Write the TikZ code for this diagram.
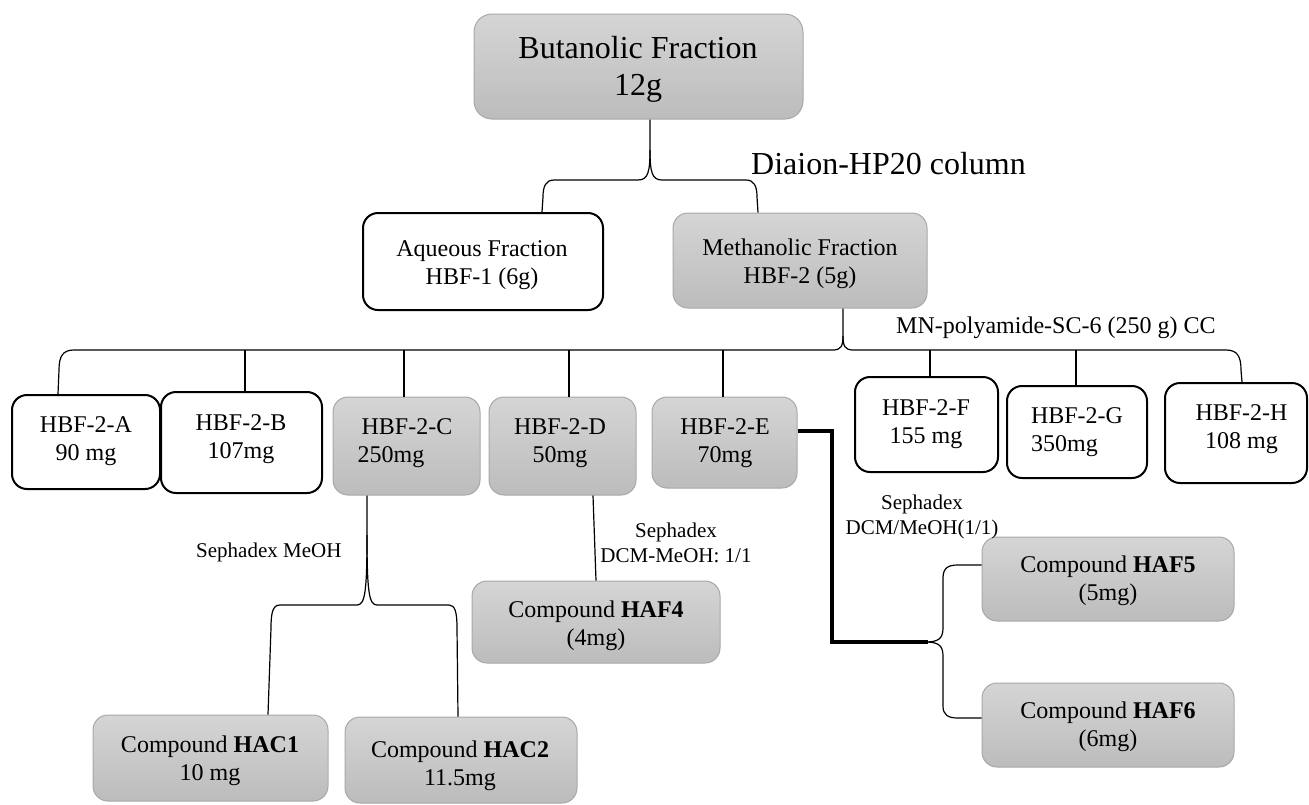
\documentclass[tikz,border=0pt]{standalone}
\usepackage{fontspec}
\setmainfont{Liberation Serif}
\definecolor{gtop}{HTML}{D5D5D5}
\definecolor{gbot}{HTML}{BCBCBC}
\definecolor{gedge}{HTML}{A8A8A8}
\newcommand\twoline[2]{\begin{tabular}[t]{@{}c@{}}#1\\#2\end{tabular}}
\tikzset{
  whitebox/.style={draw=black, line width=2pt, rounded corners=15pt, fill=white, inner sep=0pt},
  graybox/.style={draw=gedge, line width=1pt, rounded corners=15pt, top color=gtop, bottom color=gbot, inner sep=0pt},
  boxtext/.style={anchor=base, inner sep=0pt, font=\fontsize{24}{28.5}\selectfont},
  titletext/.style={anchor=base, inner sep=0pt, font=\fontsize{32}{37}\selectfont},
  steplabel/.style={anchor=base, inner sep=0pt, font=\fontsize{21}{25}\selectfont},
  conn/.style={line width=1.2pt, line join=round},
  heavyconn/.style={line width=4pt, line join=miter},
}
\begin{document}
\begin{tikzpicture}[x=1pt, y=-1pt]
\useasboundingbox (0,0) rectangle (1309,804);

% ---- boxes ----
\node[graybox, rounded corners=18pt, minimum width=329pt, minimum height=105pt] (but) at (638.5,66.5) {};
\node[whitebox, minimum width=240pt, minimum height=97pt] (aq) at (483,261.5) {};
\node[graybox, minimum width=254pt, minimum height=95pt] (meth) at (800,260.5) {};

\node[whitebox, minimum width=148pt, minimum height=94pt] (hbfA) at (86,442) {};
\node[whitebox, minimum width=161pt, minimum height=101pt] (hbfB) at (241.5,442.5) {};
\node[graybox, minimum width=147pt, minimum height=98pt] (hbfC) at (406.5,446) {};
\node[graybox, minimum width=147pt, minimum height=98pt] (hbfD) at (562.5,446) {};
\node[graybox, minimum width=145pt, minimum height=91pt] (hbfE) at (724.5,442.5) {};
\node[whitebox, minimum width=143pt, minimum height=95pt] (hbfF) at (926.5,424.5) {};
\node[whitebox, minimum width=140pt, minimum height=92pt] (hbfG) at (1077,432) {};
\node[whitebox, minimum width=142pt, minimum height=100pt] (hbfH) at (1236,433) {};

\node[graybox, minimum width=235pt, minimum height=86pt] (hac1) at (210.5,758) {};
\node[graybox, minimum width=232pt, minimum height=86pt] (hac2) at (461,760) {};
\node[graybox, minimum width=248pt, minimum height=82pt] (haf4) at (596,622) {};
\node[graybox, minimum width=252pt, minimum height=84pt] (haf5) at (1108,579) {};
\node[graybox, minimum width=252pt, minimum height=84pt] (haf6) at (1108,725) {};

% ---- connectors ----
% Diaion split
\draw[conn] (650,0 |- but.south) -- (650,150)
  .. controls (650,172) and (648,180) .. (638,180) -- (554,180)
  .. controls (546,180) and (543,186) .. (543,197) -- (542,0 |- aq.north);
\draw[conn] (650,150) .. controls (650,172) and (652,180) .. (662,180) -- (746,180)
  .. controls (754,180) and (757,186) .. (757,197) -- (758,0 |- meth.north);

% polyamide column split
\draw[conn] (843,0 |- meth.south) -- (843,336)
  .. controls (843,346) and (841,350) .. (833,350) -- (74,350)
  .. controls (63,350) and (59,356) .. (59,370) -- (58,0 |- hbfA.north);
\draw[conn] (843,336) .. controls (843,346) and (845,350) .. (853,350) -- (1226,350)
  .. controls (1237,350) and (1241,356) .. (1241,370) -- (1242,0 |- hbfH.north);
\draw[conn] (245,350) -- (245,0 |- hbfB.north);
\draw[conn] (404,350) -- (404,0 |- hbfC.north);
\draw[conn] (569,350) -- (569,0 |- hbfD.north);
\draw[conn] (723,350) -- (723,0 |- hbfE.north);
\draw[conn] (930,350) -- (930,0 |- hbfF.north);
\draw[conn] (1076,350) -- (1076,0 |- hbfG.north);

% HBF-2-C on Sephadex
\draw[conn] (367,0 |- hbfC.south) -- (367,535)
  .. controls (367,592) and (365,605) .. (357,605) -- (280,605)
  .. controls (273,605) and (271,612) .. (271,628) -- (268,0 |- hac1.north);
\draw[conn] (367,535) .. controls (367,592) and (369,605) .. (377,605) -- (449,605)
  .. controls (455,605) and (457,612) .. (457,628) -- (458,0 |- hac2.north);

% HBF-2-D on Sephadex
\draw[conn] (593,0 |- hbfD.south) -- (596,0 |- haf4.north);

% HBF-2-E on Sephadex
\draw[heavyconn] (hbfE.east |- 0,431) -- (832,431) -- (832,642) -- (928,642);
\draw[conn] (925,642) .. controls (938,642) and (943,639) .. (943,628) -- (943,578)
  .. controls (943,568) and (948,565) .. (958,565) -- (haf5.west |- 0,565);
\draw[conn] (925,642) .. controls (938,642) and (943,645) .. (943,656) -- (943,706)
  .. controls (943,715) and (948,718) .. (958,718) -- (haf6.west |- 0,718);

% ---- texts ----
\node[titletext] (butT) at (638,58) {\twoline{Butanolic Fraction}{12g}};
\node[titletext, anchor=base west] (diaion) at (751,174) {Diaion-HP20 column};
\node[boxtext] (aqT) at (482,256) {\twoline{Aqueous Fraction}{HBF-1 (6g)}};
\node[boxtext] (methT) at (800,255) {\twoline{Methanolic Fraction}{HBF-2 (5g)}};
\node[boxtext, anchor=base west] (mn) at (896,333) {MN-polyamide-SC-6 (250 g) CC};

\node[boxtext] (tA) at (86,432) {\twoline{HBF-2-A}{90 mg}};
\node[boxtext] (tB) at (241,430) {\twoline{HBF-2-B}{107mg}};
\node[boxtext] (tC) at (407,434) {\twoline{HBF-2-C}{250mg\hspace*{32pt}}};
\node[boxtext] (tD) at (560,434) {\twoline{HBF-2-D}{50mg}};
\node[boxtext] (tE) at (725,434) {\twoline{HBF-2-E}{70mg}};
\node[boxtext] (tF) at (926,415) {\twoline{HBF-2-F}{155 mg}};
\node[boxtext] (tG) at (1077,423) {\twoline{HBF-2-G}{350mg\hspace*{25pt}}};
\node[boxtext] (tH) at (1241.5,420) {\twoline{HBF-2-H}{108 mg}};

\node[steplabel, anchor=base west] (sephC) at (196,557) {Sephadex MeOH};
\node[steplabel] (sephD) at (676,537) {\twoline{Sephadex}{DCM-MeOH: 1/1}};
\node[steplabel] (sephE) at (922,509) {\twoline{Sephadex}{DCM/MeOH(1/1)}};

\node[boxtext] (t1) at (210,752) {\twoline{Compound \textbf{HAC1}}{10 mg}};
\node[boxtext] (t2) at (460,757) {\twoline{Compound \textbf{HAC2}}{11.5mg}};
\node[boxtext] (t4) at (596,617) {\twoline{Compound \textbf{HAF4}}{(4mg)}};
\node[boxtext] (t5) at (1108,572) {\twoline{Compound \textbf{HAF5}}{(5mg)}};
\node[boxtext] (t6) at (1108,718) {\twoline{Compound \textbf{HAF6}}{(6mg)}};
\end{tikzpicture}
\end{document}
